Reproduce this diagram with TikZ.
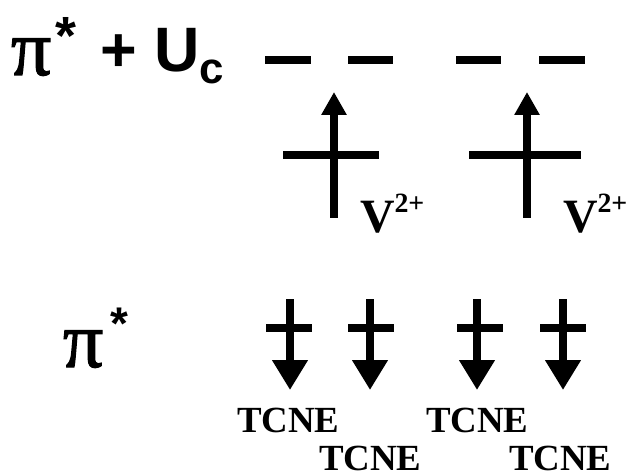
\documentclass[tikz,border=0pt]{standalone}
\usepackage{fontspec}
\usetikzlibrary{arrows.meta}
\newfontfamily\serf{Liberation Serif}
\newfontfamily\pisf[FakeBold=1.5]{Liberation Serif}
\newfontfamily\sanf{Liberation Sans}
\tikzset{
  lvl/.style={line width=8bp},
  spinup/.style={line width=8bp, -{Triangle[length=23bp,width=24bp]}},
  spindn/.style={line width=8bp, -{Triangle[length=30bp,width=34bp]}},
  txt/.style={inner sep=0pt, outer sep=0pt, anchor=base west},
  pif/.style={txt, font=\pisf\fontsize{80}{80}\selectfont},
  starf/.style={inner sep=0pt, anchor=north, font=\sanf\bfseries\fontsize{54}{54}\selectfont},
  vlab/.style={txt, font=\serf\bfseries\fontsize{48}{48}\selectfont},
  tlab/.style={txt, font=\serf\bfseries\fontsize{37}{37}\selectfont}
}
\begin{document}
\begin{tikzpicture}[x=1bp,y=-1bp]
\useasboundingbox (0,0) rectangle (632,475);
% upper label
\node[pif] (pi1) at (11,75) {π};
\node[starf] (st1) at (66,17) {*};
\node[txt, font=\sanf\bfseries\fontsize{63}{63}\selectfont] (plusU) at (100,72) {+ U};
\node[txt, font=\sanf\bfseries\fontsize{44}{44}\selectfont] (sc) at (199,84) {c};
% lower label
\node[pif] (pi2) at (63,367) {π};
\node[starf, font=\sanf\bfseries\fontsize{46}{46}\selectfont] (st2) at (119,308) {*};
% upper levels (pi* + Uc)
\foreach \i/\a/\b in {1/265/311, 2/348/393, 3/456/501, 4/539/585}{
  \coordinate (ua\i) at (\a,60);
  \coordinate (ub\i) at (\b,60);
  \draw[lvl] (ua\i) -- (ub\i);
}
% V2+ levels
\coordinate (va1) at (283,155); \coordinate (vb1) at (379,155);
\coordinate (va2) at (469,155); \coordinate (vb2) at (581,155);
\draw[lvl] (va1) -- (vb1);
\draw[lvl] (va2) -- (vb2);
% up spins
\coordinate (us1) at (334,218); \coordinate (ut1) at (334,92);
\coordinate (us2) at (527,218); \coordinate (ut2) at (527,92);
\draw[spinup] (us1) -- (ut1);
\draw[spinup] (us2) -- (ut2);
% V labels
\node[vlab] (v1) at (360,233) {V\raisebox{20bp}{\fontsize{28}{28}\selectfont 2+}};
\node[vlab] (v2) at (563,233) {V\raisebox{20bp}{\fontsize{28}{28}\selectfont 2+}};
% lower levels and down spins
\foreach \i/\a/\b/\c in {1/266/312/290, 2/348/394/370, 3/457/503/477, 4/540/586/563}{
  \coordinate (la\i) at (\a,328);
  \coordinate (lb\i) at (\b,328);
  \draw[lvl] (la\i) -- (lb\i);
  \coordinate (ds\i) at (\c,299);
  \coordinate (dt\i) at (\c,390);
  \draw[spindn] (ds\i) -- (dt\i);
}
% TCNE labels
\node[tlab] (t1) at (237,432) {TCNE};
\node[tlab] (t2) at (319,470) {TCNE};
\node[tlab] (t3) at (426,432) {TCNE};
\node[tlab] (t4) at (509,470) {TCNE};
\end{tikzpicture}
\end{document}
